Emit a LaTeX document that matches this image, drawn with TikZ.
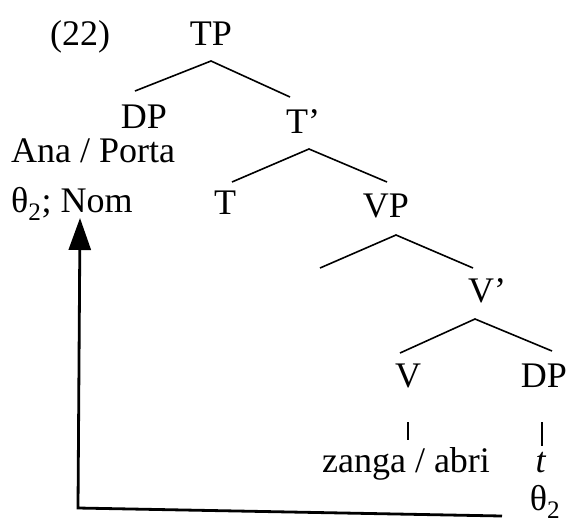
\documentclass[tikz,border=0pt]{standalone}
\usepackage{fontspec}
\setmainfont{Liberation Serif}
\usetikzlibrary{arrows.meta}
\begin{document}
\begin{tikzpicture}[x=1pt,y=-1pt,
  lbl/.style={anchor=base,inner sep=0pt,font=\fontsize{36}{40}\selectfont},
  branch/.style={line width=1.6pt},
  move/.style={line width=2.8pt,-{Triangle[length=32pt,width=22pt]}}]
\useasboundingbox (0,0) rectangle (567,523);
% labels
\node[lbl] (ex) at (80,45) {(22)};
\node[lbl] (TP) at (211,45) {TP};
\node[lbl] (DP1) at (144,128) {DP};
\node[lbl] (Tbar) at (303,133) {T’};
\node[lbl,anchor=base west] (ana) at (11,162) {Ana / Porta};
\node[lbl,anchor=base west] (nom) at (11,212) {θ\textsubscript{2}; Nom};
\node[lbl] (T) at (225,214) {T};
\node[lbl] (VP) at (386,217) {VP};
\node[lbl] (Vbar) at (487,302) {V’};
\node[lbl] (V) at (408,387) {V};
\node[lbl] (DP2) at (544,387) {DP};
\node[lbl] (verb) at (406,472) {zanga / abri};
\node[lbl] (tr) at (541,472) {\textit{t}};
\node[lbl] (th) at (545,510) {θ\textsubscript{2}};
% branch points
\coordinate (a1) at (211,61);  \coordinate (l1) at (135,91);  \coordinate (r1) at (290,97);
\coordinate (a2) at (309,149); \coordinate (l2) at (232,182); \coordinate (r2) at (387,182);
\coordinate (a3) at (396,235); \coordinate (l3) at (320,268); \coordinate (r3) at (473,268);
\coordinate (a4) at (475,319); \coordinate (l4) at (400,353); \coordinate (r4) at (552,351);
\draw[branch] (l1) -- (a1) -- (r1);
\draw[branch] (l2) -- (a2) -- (r2);
\draw[branch] (l3) -- (a3) -- (r3);
\draw[branch] (l4) -- (a4) -- (r4);
\coordinate (v1) at (408,422); \coordinate (v2) at (408,440);
\coordinate (d1) at (542,422); \coordinate (d2) at (542,446);
\draw[branch] (v1) -- (v2);
\draw[branch] (d1) -- (d2);
% movement arrow
\coordinate (mstart) at (502,516);
\coordinate (mcorner) at (78,508);
\coordinate (mtip) at (80,218);
\draw[move] (mstart) -- (mcorner) -- (mtip);
\end{tikzpicture}
\end{document}
